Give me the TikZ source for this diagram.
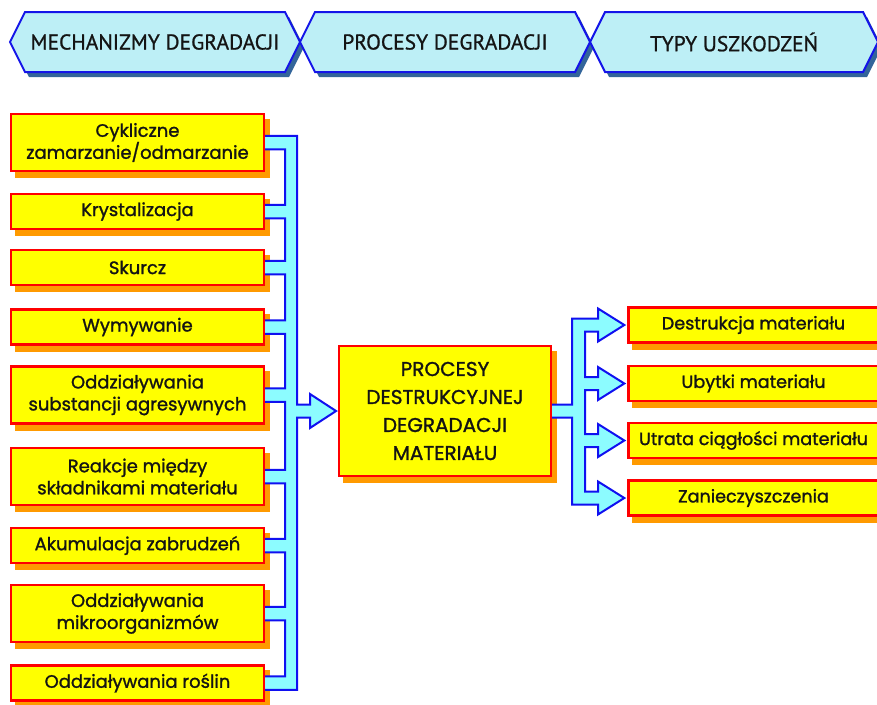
\documentclass[tikz,border=0pt]{standalone}
\usepackage{fontspec}
\setmainfont{Poppins}[FakeBold=1.3]
\newfontfamily\hdrfont{PT Sans}[FakeBold=0.9]
\usetikzlibrary{calc}
\pgfdeclarelayer{shadowlayer}
\pgfdeclarelayer{buslayer}
\pgfsetlayers{shadowlayer,buslayer,main}

\definecolor{boxfill}{HTML}{FFFF00}
\definecolor{boxline}{HTML}{FF0000}
\definecolor{boxshade}{HTML}{FF9A00}
\definecolor{busfill}{HTML}{8CFCFF}
\definecolor{busline}{HTML}{1010F0}
\definecolor{hdrfill}{HTML}{BDEFF6}
\definecolor{hdrline}{HTML}{1414E8}
\definecolor{hdrshade}{HTML}{33659A}
\definecolor{ink}{HTML}{141414}

\tikzset{
  stagebox/.style={fill=boxfill, draw=boxline, line width=2.4pt, text=ink,
    align=center, inner sep=0pt, font=\fontsize{18}{22}\selectfont,
    minimum height=35pt},
  srcbox/.style={stagebox, minimum width=253pt},
  dstbox/.style={stagebox, minimum width=250pt, font=\fontsize{17.6}{22}\selectfont},
  corebox/.style={stagebox, minimum width=211.5pt, minimum height=129.5pt,
    font=\fontsize{20}{28}\selectfont},
  tall/.style={minimum height=57pt},
  busshape/.style={fill=busfill, draw=busline, line width=2pt, line join=miter},
  hdrshape/.style={fill=hdrfill, draw=hdrline, line width=2pt},
  hdrtext/.style={text=ink, font=\hdrfont\fontsize{21.5}{24}\selectfont, inner sep=0pt}
}

\begin{document}
\begin{tikzpicture}[x=1pt, y=-1pt]
\useasboundingbox (0,0) rectangle (877,704);

% header band: three double-pointed tabs with their shadows
\foreach \a/\b in {10/300, 300/590, 590/878}
  \fill[hdrshade] (\a+4,47) -- (\a+19,17) -- (\b-11,17) -- (\b+4,47) -- (\b-11,77) -- (\a+19,77) -- cycle;
\foreach \a/\b in {10/300, 300/590, 590/878}
  \draw[hdrshape] (\a,42) -- (\a+15,12) -- (\b-15,12) -- (\b,42) -- (\b-15,72) -- (\a+15,72) -- cycle;
\node[hdrtext] (h1) at (155,42) {MECHANIZMY DEGRADACJI};
\node[hdrtext] (h2) at (445,42) {PROCESY DEGRADACJI};
\node[hdrtext] (h3) at (734,42) {TYPY USZKODZEŃ};

% mechanisms
\node[srcbox, tall] (s1) at (137.5,142.5) {Cykliczne\\zamarzanie/odmarzanie};
\node[srcbox]       (s2) at (137.5,211.5) {Krystalizacja};
\node[srcbox]       (s3) at (137.5,267.5) {Skurcz};
\node[srcbox]       (s4) at (137.5,327)   {Wymywanie};
\node[srcbox, tall] (s5) at (137.5,395)   {Oddziaływania\\substancji agresywnych};
\node[srcbox, tall] (s6) at (137.5,476.5) {Reakcje między\\składnikami materiału};
\node[srcbox]       (s7) at (137.5,545.5) {Akumulacja zabrudzeń};
\node[srcbox, tall] (s8) at (137.5,613.5) {Oddziaływania\\mikroorganizmów};
\node[srcbox]       (s9) at (137.5,683)   {Oddziaływania roślin};

% central process
\node[corebox] (core) at (445,411) {PROCESY\\DESTRUKCYJNEJ\\DEGRADACJI\\MATERIAŁU};

% damage types
\node[dstbox] (d1) at (753.5,325)   {Destrukcja materiału};
\node[dstbox] (d2) at (753.5,383.5) {Ubytki materiału};
\node[dstbox] (d3) at (753.5,440.5) {Utrata ciągłości materiału};
\node[dstbox] (d4) at (753.5,498)   {Zanieczyszczenia};

% orange drop shadows
\begin{pgfonlayer}{shadowlayer}
\foreach \n in {s1,s2,s3,s4,s5,s6,s7,s8,s9,core,d1,d2,d3,d4}
  \fill[boxshade] ($(\n.south west)+(5,6)$) rectangle ($(\n.north east)+(5,6)$);
\end{pgfonlayer}

% reference lines of the two buses
\coordinate (trO) at (297,0);
\coordinate (trI) at (285,0);
\coordinate (hb)  at (310,0);
\coordinate (rO)  at (572,0);
\coordinate (rI)  at (585,0);
\coordinate (rb)  at (598,0);
\foreach \n in {s1,s2,s3,s4,s5,s6,s7,s8,s9} {
  \coordinate (\n-t) at ($(\n.east)+(-3,-6.75)$);
  \coordinate (\n-b) at ($(\n.east)+(-3,6.75)$);
}
\foreach \n in {d1,d2,d3,d4} {
  \coordinate (\n-t)  at ($(\n.west -| rb)+(0,-6.5)$);
  \coordinate (\n-b)  at ($(\n.west -| rb)+(0,6.5)$);
  \coordinate (\n-ht) at ($(\n.west -| rb)+(0,-16.5)$);
  \coordinate (\n-hb) at ($(\n.west -| rb)+(0,16.5)$);
  \coordinate (\n-tip) at ($(\n.west)+(-3,0)$);
}
\coordinate (cw-t) at ($(core.west -| hb)+(0,-6.5)$);
\coordinate (cw-b) at ($(core.west -| hb)+(0,6.5)$);
\coordinate (cw-ht) at ($(core.west -| hb)+(0,-17)$);
\coordinate (cw-hb) at ($(core.west -| hb)+(0,17)$);
\coordinate (cw-tip) at ($(core.west)+(-2,0)$);
\coordinate (ce-t) at ($(core.east)+(-3,-6.5)$);
\coordinate (ce-b) at ($(core.east)+(-3,6.5)$);

\begin{pgfonlayer}{buslayer}
% collecting bus from the mechanisms into the central process
\draw[busshape] (s1-t) -- (s1-t -| trO) -- (cw-t -| trO) -- (cw-t) -- (cw-ht)
  -- (cw-tip) -- (cw-hb) -- (cw-b) -- (cw-b -| trO) -- (s9-b -| trO) -- (s9-b)
  -- (s9-t) -- (s9-t -| trI) -- (s8-b -| trI) -- (s8-b)
  -- (s8-t) -- (s8-t -| trI) -- (s7-b -| trI) -- (s7-b)
  -- (s7-t) -- (s7-t -| trI) -- (s6-b -| trI) -- (s6-b)
  -- (s6-t) -- (s6-t -| trI) -- (s5-b -| trI) -- (s5-b)
  -- (s5-t) -- (s5-t -| trI) -- (s4-b -| trI) -- (s4-b)
  -- (s4-t) -- (s4-t -| trI) -- (s3-b -| trI) -- (s3-b)
  -- (s3-t) -- (s3-t -| trI) -- (s2-b -| trI) -- (s2-b)
  -- (s2-t) -- (s2-t -| trI) -- (s1-b -| trI) -- (s1-b) -- cycle;
% distributing bus from the central process to the damage types
\draw[busshape] (ce-t) -- (ce-t -| rO) -- (d1-t -| rO) -- (d1-t) -- (d1-ht)
  -- (d1-tip) -- (d1-hb) -- (d1-b) -- (d1-b -| rI) -- (d2-t -| rI)
  -- (d2-t) -- (d2-ht) -- (d2-tip) -- (d2-hb) -- (d2-b) -- (d2-b -| rI)
  -- (d3-t -| rI) -- (d3-t) -- (d3-ht) -- (d3-tip) -- (d3-hb) -- (d3-b)
  -- (d3-b -| rI) -- (d4-t -| rI) -- (d4-t) -- (d4-ht) -- (d4-tip) -- (d4-hb)
  -- (d4-b) -- (d4-b -| rO) -- (ce-b -| rO) -- (ce-b) -- cycle;
\end{pgfonlayer}
\end{tikzpicture}
\end{document}
